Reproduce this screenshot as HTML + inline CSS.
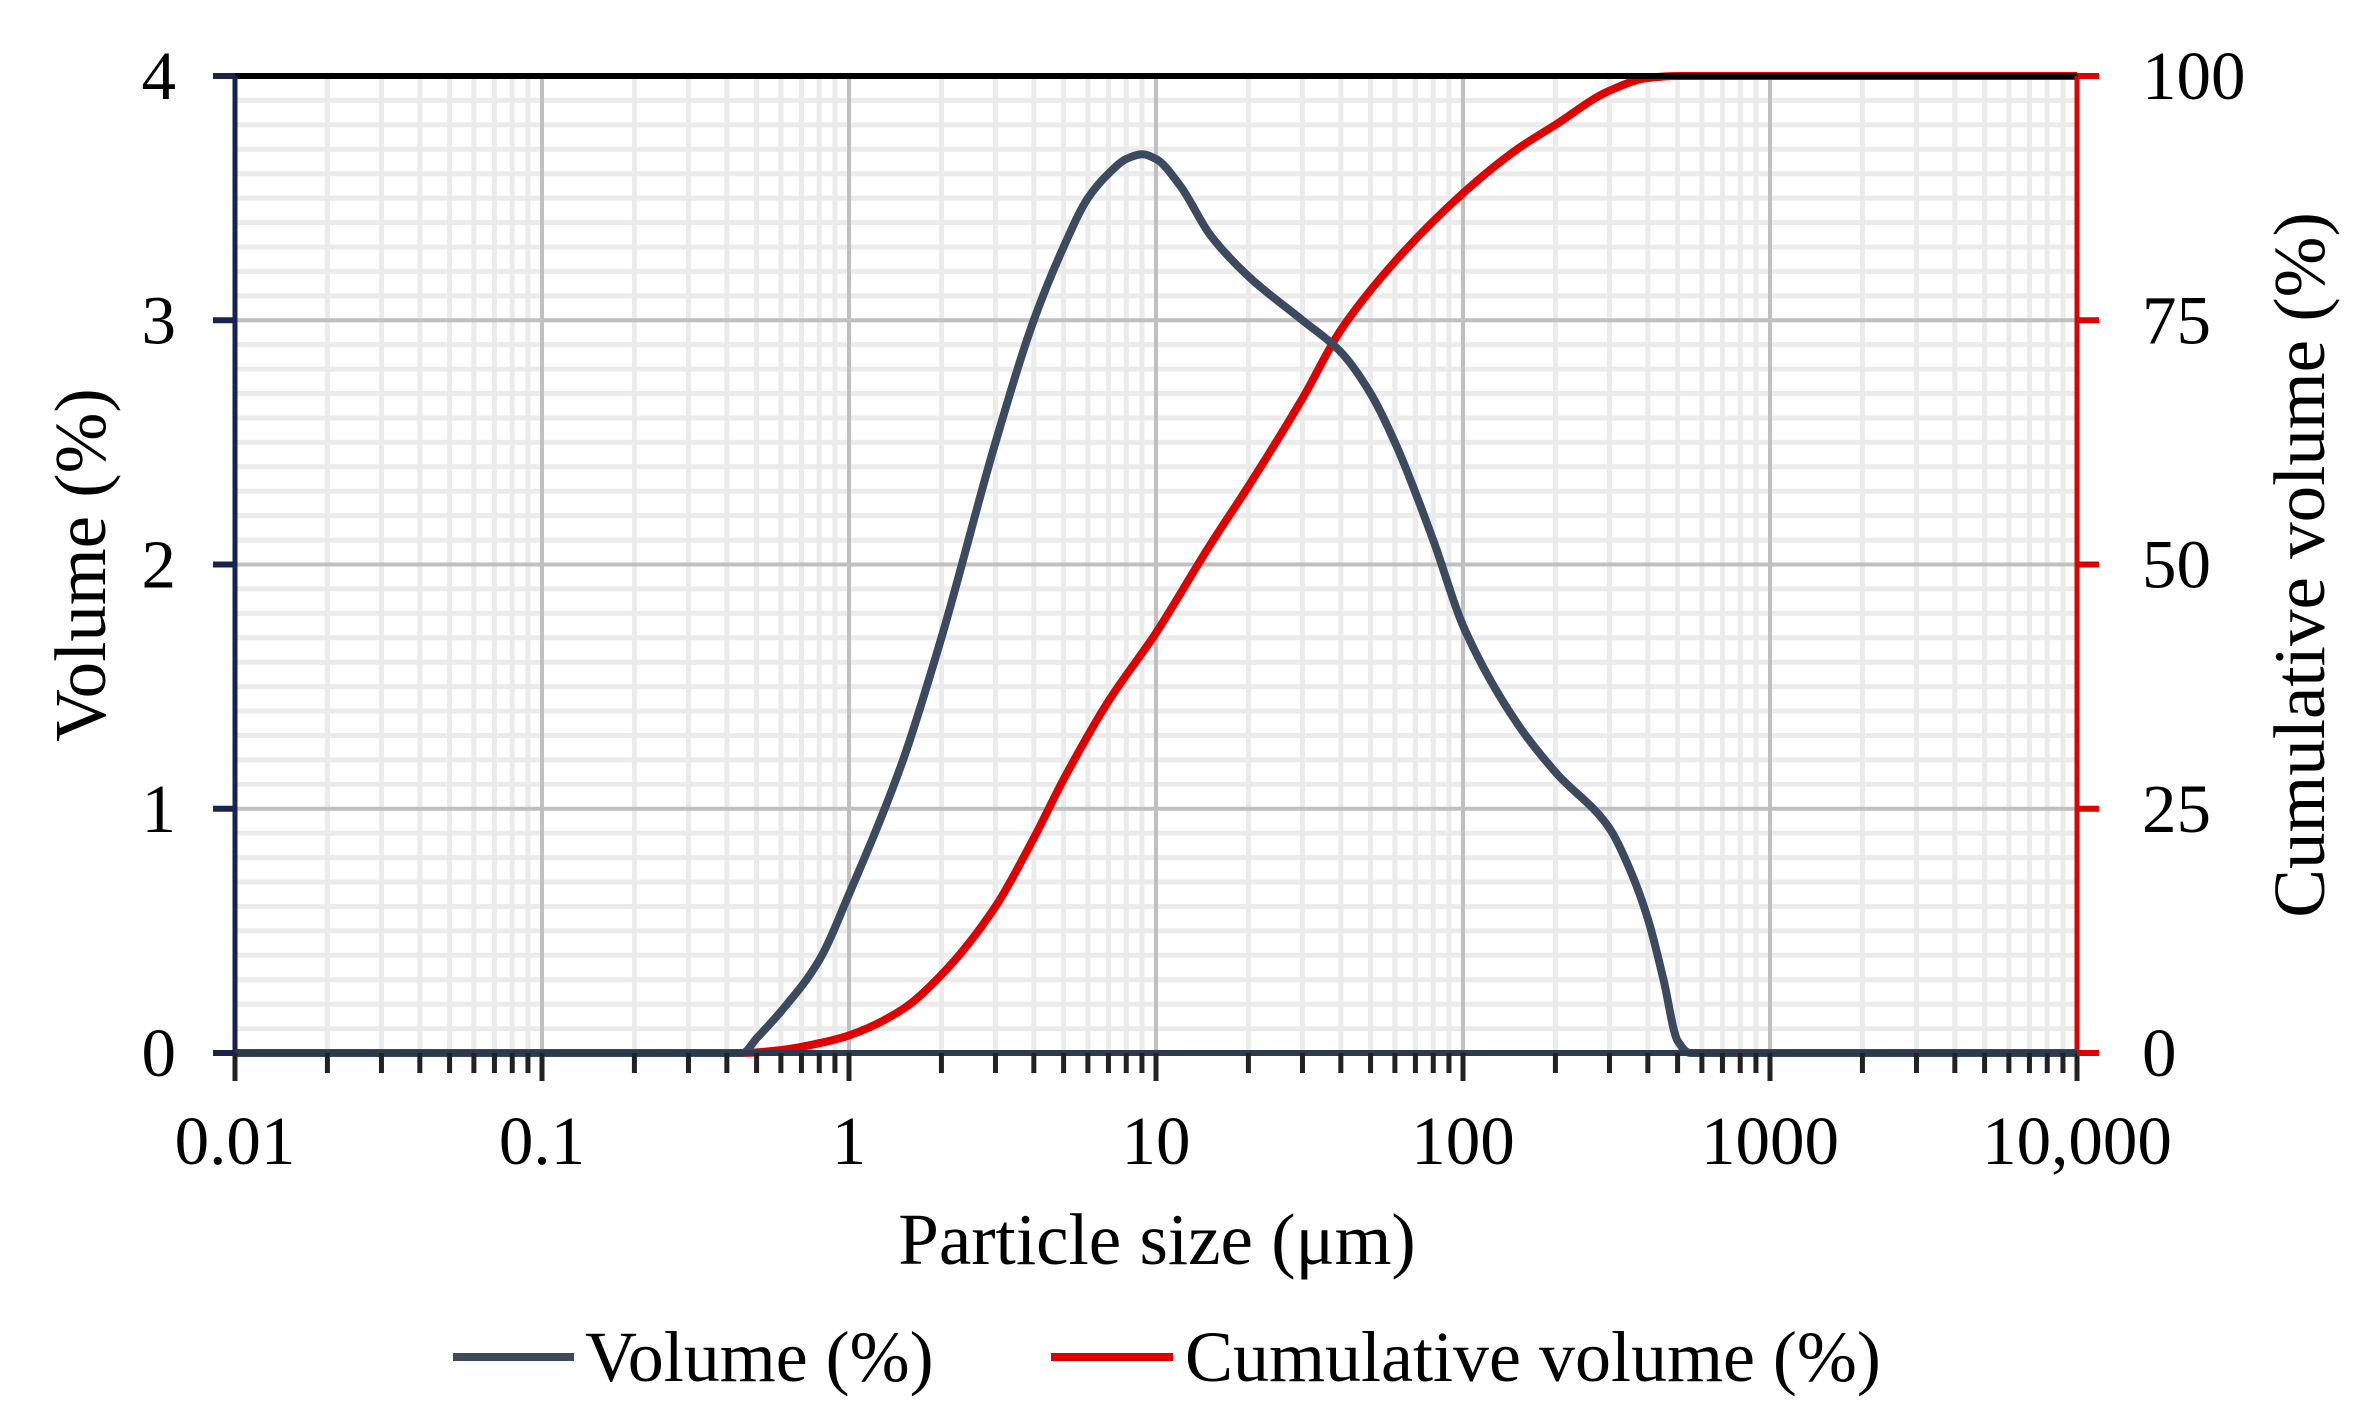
<!DOCTYPE html>
<html><head><meta charset="utf-8"><style>
html,body{margin:0;padding:0;background:#fff;}
svg{display:block;font-family:"Liberation Serif",serif;}
</style></head><body>
<svg id="chart" width="2369" height="1413" viewBox="0 0 2369 1413" xmlns="http://www.w3.org/2000/svg">
<g id="grid"></g>
<g id="series"></g>
<g id="axes"></g>
<text x="1157" y="1264" font-size="73" text-anchor="middle">Particle size (μm)</text>
<text transform="translate(105,565) rotate(-90)" font-size="73" text-anchor="middle">Volume (%)</text>
<text transform="translate(2324,565) rotate(-90)" font-size="73" text-anchor="middle">Cumulative volume (%)</text>
<g>
<line x1="453" y1="1357" x2="574" y2="1357" stroke="#3b4a5e" stroke-width="8"/>
<text x="585" y="1381" font-size="72">Volume (%)</text>
<line x1="1051" y1="1357" x2="1173" y2="1357" stroke="#e00000" stroke-width="8"/>
<text x="1185" y="1381" font-size="72">Cumulative volume (%)</text>
</g>
</svg>
<script>
const volX = [0.01,0.45,0.5,0.6,0.8,1,1.5,2,3,4,5,6,7,8,9,10,12,15,20,30,40,50,60,80,100,150,200,300,350,400,450,500,550,1000,10000];
const volY = [0,0,0.06,0.17,0.38,0.65,1.2,1.7,2.5,3.0,3.3,3.5,3.6,3.66,3.68,3.66,3.55,3.35,3.18,3.0,2.87,2.7,2.5,2.1,1.75,1.35,1.15,0.92,0.75,0.55,0.3,0.05,0,0,0];
const cumX = [0.01,0.45,0.6,0.8,1,1.5,2,3,4,5,7,10,15,20,30,40,60,100,150,200,300,400,500,10000];
const cumY = [0,0,0.3,1,1.8,4.5,8,15,22,28,36,43,52,58,67,74,81,88,92.5,95,98.5,99.8,100,100];
const xTicks = [0.01,0.1,1,10,100,1000,10000];
const xTickLabels = ["0.01","0.1","1","10","100","1000","10,000"];
const yLeftTicks = [0,1,2,3,4];
const yRightTicks = [0,25,50,75,100];

const L=235,R=2077,T=76,B=1053;
const NS="http://www.w3.org/2000/svg";
function xs(v){return L+(Math.log10(v)+2)/6*(R-L);}
function yl(v){return B-v/4*(B-T);}
function yr(v){return B-v/100*(B-T);}
function mk(parent,tag,attrs){const e=document.createElementNS(NS,tag);for(const k in attrs)e.setAttribute(k,attrs[k]);parent.appendChild(e);return e;}
const grid=document.getElementById('grid'),axes=document.getElementById('axes'),series=document.getElementById('series');

for(let i=1;i<40;i++){ if(i%10===0) continue;
  const l=mk(grid,'line',{x1:L,x2:R,y1:yl(i/10),y2:yl(i/10),stroke:'#ebebeb','stroke-width':5});
  
  
}
for(let d=-2;d<4;d++){for(let m=2;m<10;m++){const x=xs(m*Math.pow(10,d));
  const l=mk(grid,'line',{x1:x,x2:x,y1:T,y2:B,stroke:'#ebebeb','stroke-width':5});
  
  
}}
yLeftTicks.forEach(v=>{if(v===0||v===4)return;
  const l=mk(grid,'line',{x1:L,x2:R,y1:yl(v),y2:yl(v),stroke:'#c0c0c0','stroke-width':4});
  
  
});
xTicks.forEach(v=>{if(v===0.01||v===10000)return;
  const l=mk(grid,'line',{x1:xs(v),x2:xs(v),y1:T,y2:B,stroke:'#c0c0c0','stroke-width':4});
  
  
});

function monotone(xa,ya,yf){
  const p=xa.map((x,i)=>[xs(x),yf(ya[i])]);const n=p.length;
  const dx=[],s=[];for(let i=0;i<n-1;i++){dx[i]=p[i+1][0]-p[i][0];s[i]=(p[i+1][1]-p[i][1])/dx[i];}
  const m=[s[0]];for(let i=1;i<n-1;i++){m[i]=(s[i-1]*s[i]<=0)?0:(dx[i-1]+dx[i])*3/((2*dx[i]+dx[i-1])/s[i-1]+(dx[i]+2*dx[i-1])/s[i]);}
  m[n-1]=s[n-2];
  let d='M'+p[0][0].toFixed(1)+','+p[0][1].toFixed(1);
  for(let i=0;i<n-1;i++){const h=dx[i]/3;
    d+=' C'+(p[i][0]+h).toFixed(1)+','+(p[i][1]+m[i]*h).toFixed(1)+' '+(p[i+1][0]-h).toFixed(1)+','+(p[i+1][1]-m[i+1]*h).toFixed(1)+' '+p[i+1][0].toFixed(1)+','+p[i+1][1].toFixed(1);}
  return d;}
const cum=mk(series,'path',{d:monotone(cumX,cumY,yr),fill:'none',stroke:'#e00000','stroke-width':8,'stroke-linejoin':'round'});


const vol=mk(series,'path',{d:monotone(volX,volY,yl),fill:'none',stroke:'#3b4a5e','stroke-width':8,'stroke-linejoin':'round'});



let a;
a=mk(axes,'line',{x1:L,x2:R,y1:T,y2:T,stroke:'#000','stroke-width':6});

a=mk(axes,'line',{x1:L,x2:L,y1:T,y2:B,stroke:'#1a2350','stroke-width':5});

a=mk(axes,'line',{x1:R,x2:R,y1:T,y2:B,stroke:'#e00000','stroke-width':5});

a=mk(axes,'line',{x1:L,x2:R,y1:B,y2:B,stroke:'#2c3a4e','stroke-width':6});


for(let d=-2;d<4;d++){for(let m=2;m<10;m++){const x=xs(m*Math.pow(10,d));
  const t=mk(axes,'line',{x1:x,x2:x,y1:B,y2:B+20,stroke:'#222','stroke-width':5});
  
}}
xTicks.forEach((v,i)=>{const x=xs(v);
  const t=mk(axes,'line',{x1:x,x2:x,y1:B,y2:B+28,stroke:'#222','stroke-width':5});
  
  const tx=mk(axes,'text',{x:x,y:1164,'font-size':69,'text-anchor':'middle'});tx.textContent=xTickLabels[i];
  
});
yLeftTicks.forEach(v=>{const y=yl(v);
  const t=mk(axes,'line',{x1:L-22,x2:L,y1:y,y2:y,stroke:'#1a2350','stroke-width':6});
  
  const tx=mk(axes,'text',{x:176,y:y+23,'font-size':69,'text-anchor':'end'});tx.textContent=String(v);
  
});
yRightTicks.forEach(v=>{const y=yr(v);
  const t=mk(axes,'line',{x1:R,x2:R+22,y1:y,y2:y,stroke:'#e00000','stroke-width':6});
  
  const tx=mk(axes,'text',{x:2142,y:y+23,'font-size':69,'text-anchor':'start'});tx.textContent=String(v);
  
});
</script>
</body></html>
